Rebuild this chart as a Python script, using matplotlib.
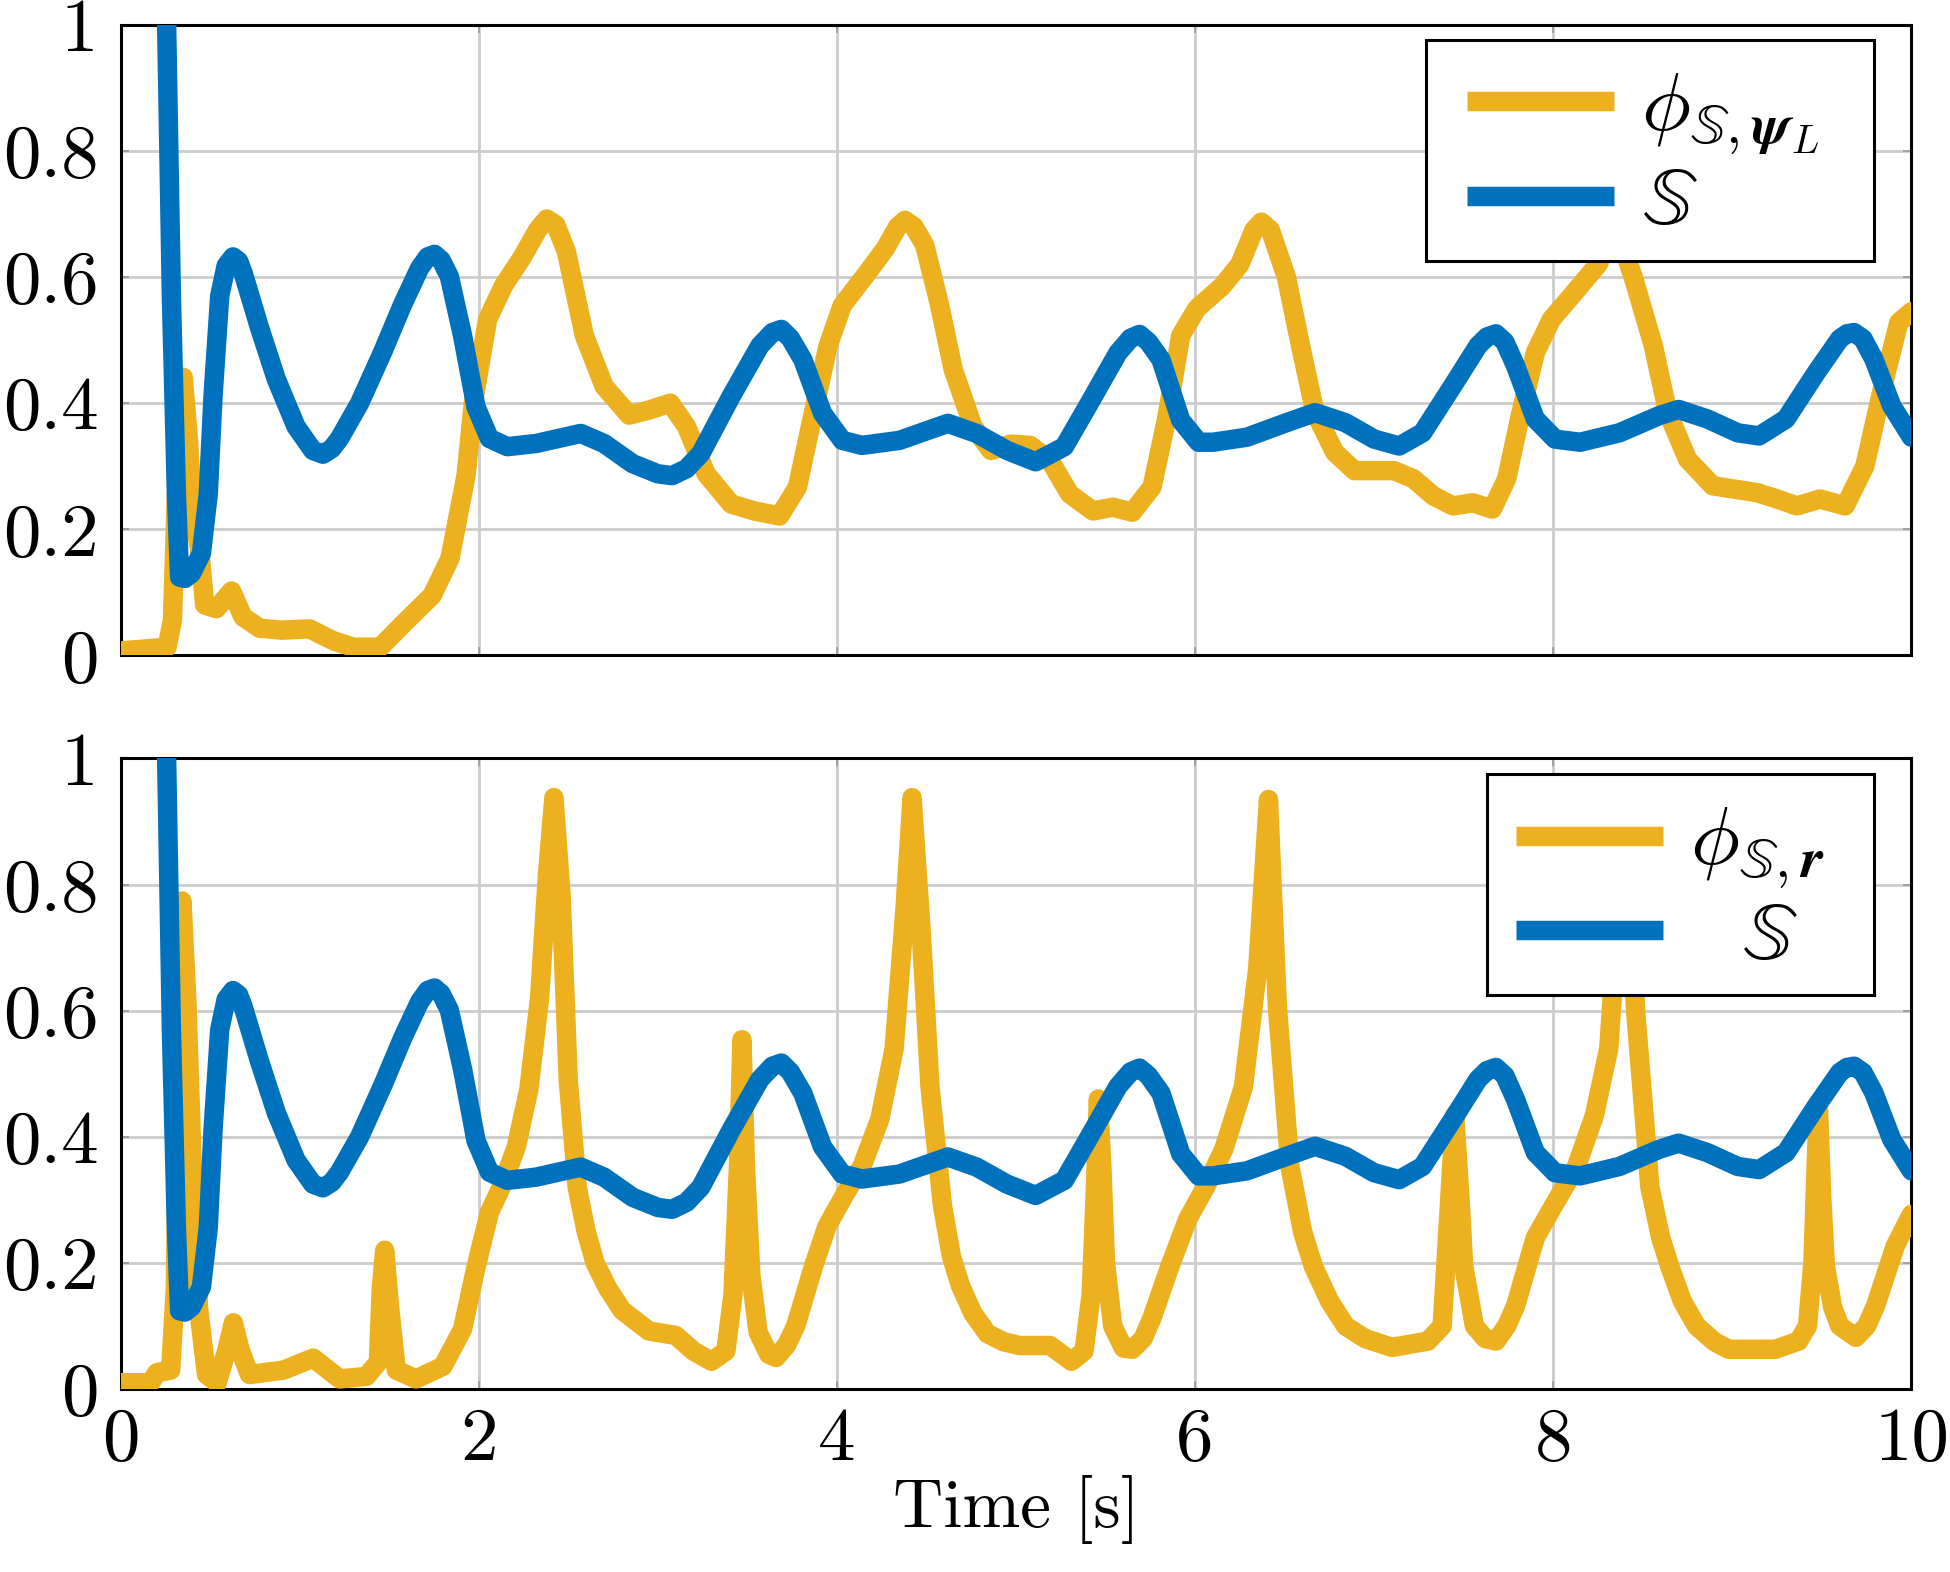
import matplotlib
matplotlib.use("Agg")
import matplotlib.pyplot as plt
from matplotlib.patches import Rectangle

# ---------------- data (time [s], value) ----------------
S_curve = [
    (0.20, 1.80), (0.257, 1.01), (0.284, 0.57), (0.312, 0.256), (0.33, 0.124), (0.36, 0.122),
    (0.396, 0.13), (0.452, 0.162), (0.49, 0.256), (0.517, 0.413), (0.554, 0.57), (0.59, 0.618),
    (0.628, 0.632), (0.66, 0.625), (0.684, 0.607), (0.777, 0.519), (0.87, 0.438), (0.98, 0.363),
    (1.074, 0.325), (1.13, 0.319), (1.18, 0.328), (1.223, 0.344), (1.335, 0.40), (1.465, 0.482),
    (1.576, 0.557), (1.67, 0.614), (1.715, 0.632), (1.753, 0.636), (1.79, 0.627), (1.836, 0.601),
    (1.91, 0.507), (1.985, 0.394), (2.06, 0.344), (2.16, 0.331), (2.32, 0.336), (2.57, 0.352),
    (2.70, 0.336), (2.86, 0.304), (3.00, 0.288), (3.08, 0.285), (3.16, 0.296), (3.24, 0.32),
    (3.41, 0.411), (3.57, 0.491), (3.64, 0.512), (3.69, 0.517), (3.74, 0.503), (3.81, 0.469),
    (3.92, 0.384), (4.03, 0.341), (4.14, 0.333), (4.35, 0.341), (4.62, 0.368), (4.78, 0.352),
    (4.95, 0.325), (5.11, 0.307), (5.27, 0.331), (5.41, 0.40), (5.57, 0.48), (5.64, 0.503),
    (5.69, 0.509), (5.74, 0.497), (5.81, 0.469), (5.92, 0.373), (6.02, 0.338), (6.10, 0.338),
    (6.29, 0.346), (6.51, 0.369), (6.67, 0.385), (6.84, 0.369), (7.00, 0.343), (7.14, 0.332),
    (7.27, 0.353), (7.44, 0.428), (7.58, 0.491), (7.63, 0.505), (7.68, 0.51), (7.73, 0.497),
    (7.79, 0.459), (7.90, 0.375), (8.01, 0.343), (8.15, 0.338), (8.37, 0.353), (8.59, 0.38),
    (8.70, 0.39), (8.86, 0.375), (9.03, 0.353), (9.15, 0.348), (9.30, 0.375), (9.47, 0.449),
    (9.60, 0.502), (9.64, 0.51), (9.68, 0.512), (9.73, 0.502), (9.79, 0.47), (9.89, 0.396),
    (10.0, 0.346),
]

phi_psiL_curve = [
    (0.0, 0.007), (0.26, 0.013), (0.29, 0.056), (0.312, 0.256), (0.35, 0.441), (0.377, 0.35),
    (0.405, 0.225), (0.442, 0.168), (0.47, 0.08), (0.535, 0.074), (0.62, 0.102), (0.684, 0.061),
    (0.777, 0.043), (0.90, 0.04), (1.056, 0.042), (1.19, 0.023), (1.30, 0.013), (1.45, 0.013),
    (1.60, 0.056), (1.74, 0.095), (1.84, 0.154), (1.93, 0.286), (1.97, 0.40), (2.05, 0.533),
    (2.14, 0.587), (2.24, 0.63), (2.33, 0.675), (2.38, 0.692), (2.43, 0.683), (2.49, 0.64),
    (2.59, 0.507), (2.70, 0.427), (2.84, 0.381), (2.95, 0.389), (3.07, 0.40), (3.16, 0.363),
    (3.27, 0.288), (3.41, 0.24), (3.54, 0.229), (3.68, 0.221), (3.78, 0.267), (3.86, 0.373),
    (3.95, 0.49), (4.03, 0.555), (4.16, 0.603), (4.27, 0.645), (4.34, 0.68), (4.38, 0.69),
    (4.43, 0.68), (4.49, 0.651), (4.57, 0.56), (4.65, 0.453), (4.76, 0.363), (4.86, 0.325),
    (4.97, 0.335), (5.08, 0.333), (5.19, 0.309), (5.30, 0.256), (5.43, 0.229), (5.54, 0.235),
    (5.65, 0.227), (5.76, 0.267), (5.84, 0.373), (5.92, 0.507), (6.01, 0.55), (6.15, 0.585),
    (6.25, 0.62), (6.33, 0.675), (6.37, 0.687), (6.42, 0.675), (6.51, 0.60), (6.59, 0.49),
    (6.67, 0.385), (6.78, 0.322), (6.89, 0.293), (7.11, 0.293), (7.22, 0.28), (7.33, 0.253),
    (7.44, 0.237), (7.55, 0.242), (7.66, 0.232), (7.74, 0.28), (7.82, 0.385), (7.90, 0.48),
    (7.99, 0.533), (8.12, 0.576), (8.25, 0.62), (8.35, 0.68), (8.45, 0.597), (8.56, 0.49),
    (8.64, 0.385), (8.75, 0.311), (8.89, 0.269), (9.14, 0.258), (9.25, 0.248), (9.36, 0.237),
    (9.49, 0.248), (9.63, 0.237), (9.74, 0.30), (9.85, 0.438), (9.93, 0.528), (10.0, 0.545),
]

phi_r_curve = [
    (0.0, 0.01), (0.167, 0.01), (0.204, 0.026), (0.28, 0.03), (0.306, 0.16), (0.325, 0.55),
    (0.343, 0.774), (0.37, 0.62), (0.40, 0.357), (0.436, 0.128), (0.48, 0.023), (0.54, 0.01),
    (0.594, 0.062), (0.63, 0.105), (0.668, 0.062), (0.72, 0.023), (0.91, 0.03), (1.076, 0.049),
    (1.224, 0.016), (1.373, 0.02), (1.44, 0.043), (1.456, 0.16), (1.475, 0.22), (1.503, 0.128),
    (1.54, 0.03), (1.65, 0.016), (1.80, 0.036), (1.91, 0.095), (1.985, 0.193), (2.06, 0.28),
    (2.134, 0.325), (2.21, 0.384), (2.28, 0.475), (2.34, 0.62), (2.384, 0.816), (2.42, 0.938),
    (2.46, 0.784), (2.50, 0.49), (2.55, 0.32), (2.60, 0.25), (2.65, 0.20), (2.72, 0.16),
    (2.80, 0.125), (2.95, 0.092), (3.10, 0.085), (3.20, 0.06), (3.30, 0.044), (3.38, 0.06),
    (3.42, 0.15), (3.45, 0.35), (3.47, 0.554), (3.49, 0.35), (3.52, 0.18), (3.56, 0.09),
    (3.62, 0.055), (3.66, 0.05), (3.72, 0.07), (3.77, 0.10), (3.87, 0.195), (3.945, 0.258),
    (4.045, 0.309), (4.14, 0.353), (4.24, 0.428), (4.32, 0.54), (4.38, 0.76), (4.42, 0.938),
    (4.47, 0.73), (4.52, 0.479), (4.59, 0.29), (4.64, 0.21), (4.69, 0.164), (4.76, 0.12),
    (4.84, 0.088), (4.93, 0.075), (5.02, 0.069), (5.19, 0.069), (5.31, 0.044), (5.38, 0.06),
    (5.42, 0.15), (5.44, 0.29), (5.46, 0.46), (5.48, 0.35), (5.50, 0.20), (5.54, 0.10),
    (5.60, 0.065), (5.65, 0.063), (5.71, 0.08), (5.76, 0.113), (5.86, 0.195), (5.96, 0.27),
    (6.06, 0.321), (6.16, 0.38), (6.27, 0.479), (6.35, 0.667), (6.41, 0.935), (6.46, 0.605),
    (6.53, 0.353), (6.60, 0.25), (6.66, 0.195), (6.75, 0.14), (6.84, 0.10), (6.95, 0.08),
    (7.10, 0.066), (7.30, 0.076), (7.38, 0.10), (7.42, 0.29), (7.45, 0.434), (7.48, 0.30),
    (7.50, 0.195), (7.56, 0.10), (7.62, 0.08), (7.68, 0.076), (7.74, 0.10), (7.79, 0.132),
    (7.90, 0.24), (8.00, 0.29), (8.13, 0.353), (8.23, 0.434), (8.31, 0.54), (8.36, 0.75),
    (8.41, 0.935), (8.46, 0.60), (8.54, 0.32), (8.60, 0.24), (8.65, 0.195), (8.72, 0.14),
    (8.80, 0.10), (8.90, 0.075), (8.98, 0.063), (9.24, 0.063), (9.37, 0.076), (9.42, 0.10),
    (9.45, 0.20), (9.48, 0.453), (9.50, 0.30), (9.52, 0.195), (9.56, 0.13), (9.60, 0.10),
    (9.69, 0.082), (9.75, 0.10), (9.80, 0.132), (9.91, 0.227), (10.0, 0.277),
]

x_ticks = [0, 2, 4, 6, 8, 10]
x_tick_labels = ["0", "2", "4", "6", "8", "10"]
y_ticks = [0, 0.2, 0.4, 0.6, 0.8, 1.0]
y_tick_labels = ["0", "0.2", "0.4", "0.6", "0.8", "1"]

label_phi_psiL = r"$\phi_{\mathbb{S},\boldsymbol{\psi}_L}$"
label_phi_r = r"$\phi_{\mathbb{S},\boldsymbol{r}}$"
label_S_top = r"$\mathbb{S}$"
label_S_bottom = r"$\;\;\,\mathbb{S}$"
x_label = "Time [s]"

# ---------------- style ----------------
YELLOW = "#EDB120"
BLUE = "#0072BD"
plt.rcParams["font.family"] = ["cmr10", "DejaVu Serif"]
plt.rcParams["mathtext.fontset"] = "cm"
plt.rcParams["axes.formatter.use_mathtext"] = True
FS_TICK = 54
FS_LABEL = 50
FS_LEG = 59
LW = 14

fig = plt.figure(figsize=(19.5, 15.72), dpi=100)
ax1 = fig.add_axes([0.0618, 0.5831, 0.9184, 0.4011])
ax2 = fig.add_axes([0.0618, 0.1164, 0.9184, 0.4011])


def style(ax):
    ax.set_xlim(0, 10)
    ax.set_ylim(0, 1)
    ax.set_xticks(x_ticks)
    ax.set_yticks(y_ticks)
    ax.set_yticklabels(y_tick_labels)
    ax.grid(True, color="#cccccc", linewidth=2.0)
    ax.set_axisbelow(True)
    for s in ax.spines.values():
        s.set_linewidth(2.2)
        s.set_color("black")
    ax.tick_params(direction="in", length=6, width=1.2, color="#999999",
                   top=True, right=True, labelsize=FS_TICK)
    ax.tick_params(axis="y", pad=16)
    ax.tick_params(axis="x", pad=13)


# legend frame (axes fraction: left, bottom, width, height) and content anchor
panels = [
    (ax1, phi_psiL_curve, label_phi_psiL, label_S_top, (0.729, 0.625, 0.250, 0.351), (0.964, 0.968)),
    (ax2, phi_r_curve, label_phi_r, label_S_bottom, (0.763, 0.625, 0.216, 0.351), (0.967, 0.968)),
]

for ax, curve, lab, lab_s, frame, anchor in panels:
    tp, vp = zip(*curve)
    ts, vs = zip(*S_curve)
    ax.plot(tp, vp, color=YELLOW, lw=LW, solid_joinstyle="round",
            solid_capstyle="round", label=lab, zorder=3)
    ax.plot(ts, vs, color=BLUE, lw=LW, solid_joinstyle="round",
            solid_capstyle="round", label=lab_s, zorder=4)
    style(ax)
    ax.add_patch(Rectangle(frame[:2], frame[2], frame[3], transform=ax.transAxes,
                           facecolor="white", edgecolor="black", linewidth=2.2,
                           zorder=4.5, clip_on=False))
    leg = ax.legend(loc="upper right", bbox_to_anchor=anchor,
                    fontsize=FS_LEG, frameon=False, handlelength=1.8,
                    handletextpad=0.33, borderpad=0.33, labelspacing=0.12,
                    borderaxespad=0)
    leg.set_zorder(6)
    for h in leg.get_lines():
        h.set_linewidth(LW)
        h.set_solid_capstyle("butt")

ax1.set_xticklabels([])
ax2.set_xticklabels(x_tick_labels)
ax2.set_xlabel(x_label, fontsize=FS_LABEL, labelpad=0)

fig.savefig("out.png", dpi=100)
